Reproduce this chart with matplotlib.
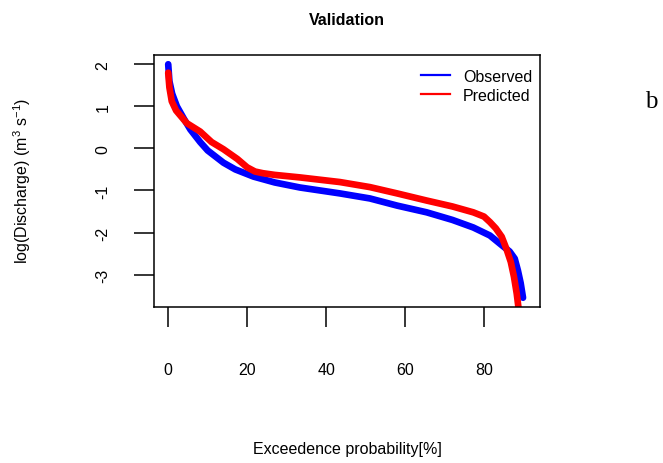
import matplotlib
matplotlib.use("Agg")
import matplotlib.pyplot as plt

# flow duration curves
obs_x = [0, 0.3, 1, 2.2, 4, 5.6, 8.1, 10, 14, 17, 21.6, 27, 33.4, 43.5, 51.1,
         58, 65.5, 72, 77.3, 81.5, 84.5, 86.5, 87.8, 88.6, 89.3, 89.9]
obs_y = [2.0, 1.6, 1.3, 1.0, 0.7, 0.45, 0.15, -0.05, -0.34, -0.5, -0.67, -0.81, -0.93, -1.07, -1.19,
         -1.36, -1.52, -1.7, -1.88, -2.07, -2.3, -2.45, -2.62, -2.9, -3.2, -3.55]

pred_x = [0, 0.3, 0.9, 2, 4.7, 8.1, 11, 14, 17.5, 20, 22, 24, 27, 33.4, 43.5, 51.1,
          58, 65.5, 72, 77.3, 80, 81.5, 83, 84.5, 85.7, 86.8, 87.6, 88.3, 88.9]
pred_y = [1.8, 1.45, 1.12, 0.9, 0.6, 0.4, 0.15, -0.02, -0.25, -0.45, -0.55, -0.59, -0.63, -0.69,
          -0.8, -0.92, -1.07, -1.24, -1.38, -1.52, -1.62, -1.75, -1.9, -2.1, -2.39, -2.7, -3.05,
          -3.45, -3.9]

x_ticks = [0, 20, 40, 60, 80]
y_ticks = [-3, -2, -1, 0, 1, 2]

plt.rcParams['font.family'] = ['Liberation Sans', 'DejaVu Sans']
plt.rcParams['mathtext.default'] = 'regular'
plt.rcParams['axes.unicode_minus'] = False
plt.rcParams['font.size'] = 11.5

fig = plt.figure(figsize=(6.63, 4.64), dpi=100)
ax = fig.add_axes([154 / 663, 1 - 308 / 464, 386 / 663, 252 / 464])

ax.plot(obs_x, obs_y, color='#0000FF', lw=4.8, solid_capstyle='round', label='Observed')
ax.plot(pred_x, pred_y, color='#FF0000', lw=4.8, solid_capstyle='round', label='Predicted')

ax.set_xlim(-3.6, 94.2)
ax.set_ylim(-3.77, 2.22)
ax.set_xticks(x_ticks)
ax.set_yticks(y_ticks)
ax.tick_params(axis='x', direction='out', length=14.4, width=1.1, pad=25)
ax.tick_params(axis='y', direction='out', length=14.4, width=1.1, pad=17)
for lab in ax.get_yticklabels():
    lab.set_rotation(90)
    lab.set_va('center')
for sp in ax.spines.values():
    sp.set_linewidth(1.1)

ax.set_title('Validation', fontweight='bold', fontsize=11.5, pad=22)
fig.text(347 / 663, 1 - 450 / 464, 'Exceedence probability[%]', ha='center', va='center')
fig.text(22 / 663, 1 - 181 / 464, 'log(Discharge) (m$^3$ s$^{-1}$)', rotation=90,
         ha='center', va='center')
fig.text(651 / 663, 1 - 102 / 464, 'b', family='Liberation Serif', fontsize=18,
         ha='center', va='center')

leg_lines = [plt.Line2D([], [], color='#0000FF', lw=1.6),
             plt.Line2D([], [], color='#FF0000', lw=1.6)]
ax.legend(leg_lines, ['Observed', 'Predicted'], frameon=False, loc='upper right',
          bbox_to_anchor=(532 / 663, 1 - 70 / 464), bbox_transform=fig.transFigure,
          borderpad=0, borderaxespad=0, handlelength=1.8, handletextpad=0.8,
          labelspacing=0.22, fontsize=11.5)

fig.savefig('out.png', dpi=100)
